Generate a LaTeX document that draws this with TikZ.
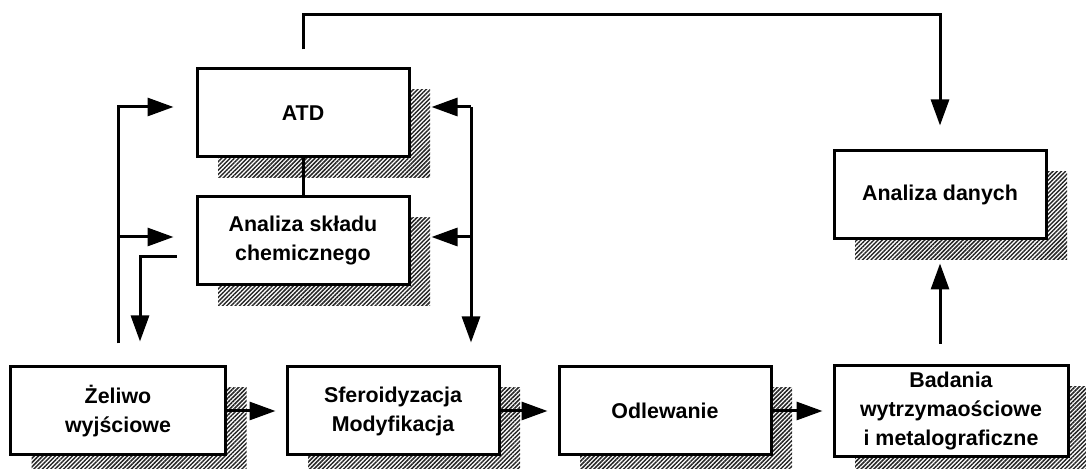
\documentclass[tikz,border=0pt]{standalone}
\usepackage{fontspec}
\setmainfont{Liberation Sans}
\usepackage{tikz}
\usetikzlibrary{shadows}
\usetikzlibrary{positioning}
\usetikzlibrary{patterns.meta}
\usetikzlibrary{arrows.meta}

\begin{document}
\begin{tikzpicture}[x=0.5pt, y=-0.5pt,
        box/.style={rectangle, draw=black, fill=white, line width=1.5pt, minimum width=106pt, minimum height=44pt, align=center,
                    font=\fontsize{10.7}{14.5}\selectfont\bfseries,
                    general shadow={shadow xshift=10.5pt, shadow yshift=-10.5pt, pattern={Lines[angle=45, distance=1.5pt, line width=0.75pt]}, pattern color=black!85}},
        arr/.style={-{Triangle[length=13pt, width=9pt]}, line width=1.5pt},
        line/.style={line width=1.5pt}
      ]
        \clip (0,0) rectangle (1086,469);

        \node[box]  (atd)     at(303, 113)                                      {ATD};
        \node[box]  (chem)                 [below of=atd, node distance=64pt]   {Analiza składu\\chemicznego};
        \node[box]  (dane)    at(940, 195)                                      {Analiza danych};
        \node[box]  (zeliwo)  at(118, 411)  [minimum width=107.5pt]             {Żeliwo\\wyjściowe};
        \node[box]  (sfero)                [right of=zeliwo, node distance=137.5pt] {Sferoidyzacja\\Modyfikacja};
        \node[box]  (odlew)                [right of=sfero, node distance=136pt]    {Odlewanie};
        \node[box]  (badania)              [right of=odlew, node distance=143pt, minimum width=117pt] {Badania\\wytrzymaościowe\\i metalograficzne};

        % punkty pomocnicze
        \coordinate (top)     at (0, 15);
        \coordinate (atdin)   at ([xshift=-11pt, yshift=3pt]atd.west);
        \coordinate (chemin)  at ([xshift=-11pt, yshift=2pt]chem.west);
        \coordinate (chemout) at ([xshift=-9.5pt, yshift=-8pt]chem.west);
        \coordinate (zelin)   at ([xshift=11pt, yshift=12pt]zeliwo.north);
        \coordinate (atdret)  at ([xshift=10.5pt, yshift=3pt]atd.east);
        \coordinate (chemret) at ([xshift=10.5pt, yshift=2pt]chem.east);
        \coordinate (sferoin) at ([xshift=39pt, yshift=11.5pt]sfero.north);
        \coordinate (badtop)  at ([xshift=-5.5pt, yshift=10pt]badania.north);

        % ciag glowny
        \draw[arr, shorten >=5pt]  (zeliwo.east) -- (sfero.west);
        \draw[arr, shorten >=5pt]  (sfero.east)  -- (odlew.west);
        \draw[arr, shorten >=5pt]  (odlew.east)  -- (badania.west);
        \draw[arr]  (badtop) -- ([yshift=-11.5pt]dane.south);

        % lewa strona
        \draw[arr]  ([yshift=11pt]zeliwo.north) |- (atdin);
        \draw[arr]  (zeliwo.north |- chemin) -- (chemin);
        \draw[arr]  (chemout) -| (zelin);

        % prawa strona
        \draw[arr]  (sferoin |- atdret) -- (sferoin);
        \draw[arr]  (sferoin |- atdret) -- (atdret);
        \draw[arr]  (sferoin |- chemret) -- (chemret);

        \draw[line]  (atd.south) -- (chem.north);
        \draw[arr]  ([yshift=9pt]atd.north) |- (top -| dane.north) -- ([yshift=12pt]dane.north);
      \end{tikzpicture}
\end{document}
